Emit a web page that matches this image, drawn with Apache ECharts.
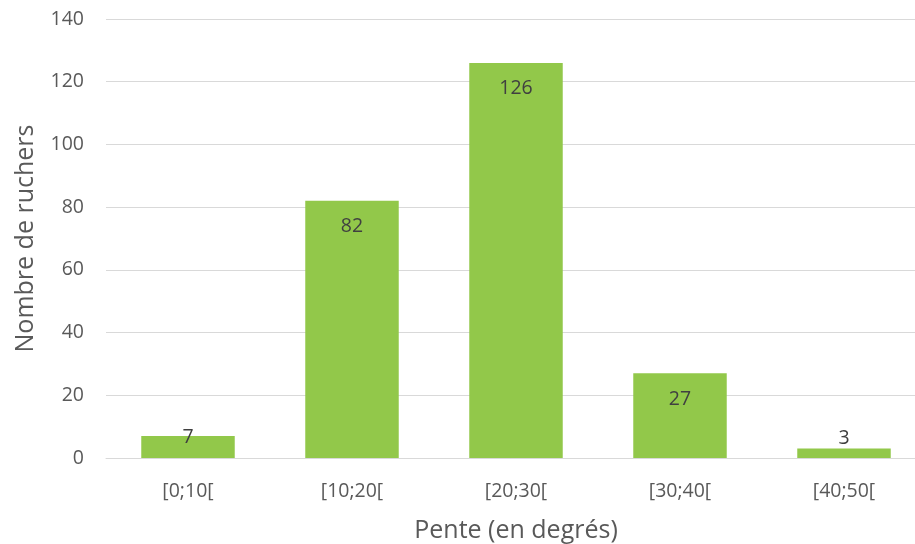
<!DOCTYPE html>
<html><head><meta charset="utf-8">
<script src="https://cdn.jsdelivr.net/npm/echarts@6/dist/echarts.min.js"></script>
<style>html,body{margin:0;padding:0;background:#fff}#c{width:915px;height:544px}</style>
</head><body><div id="c"></div>
<script>
const categories = ['[0;10[', '[10;20[', '[20;30[', '[30;40[', '[40;50['];
const values = [7, 82, 126, 27, 3];
const yTicks = { min: 0, max: 140, interval: 20 };
const xTitle = 'Pente (en degrés)';
const yTitle = 'Nombre de ruchers';

const FONT = '"Open Sans", sans-serif';
const TXT = '#595959';
const chart = echarts.init(document.getElementById('c'), null, { renderer: 'canvas' });

const data = values.map(function (v) {
  const item = { value: v };
  if (v < 10) {
    item.label = { position: 'top', distance: v > 5 ? -11 : 0 };
  }
  return item;
});

chart.setOption({
  animation: false,
  grid: { left: 106, top: 19, width: 820, height: 439, containLabel: false, outerBoundsMode: 'none' },
  xAxis: {
    type: 'category', data: categories,
    axisLine: { lineStyle: { color: '#d9d9d9', width: 1 } },
    axisTick: { show: false },
    axisLabel: { color: TXT, fontSize: 19.5, fontFamily: FONT, margin: 23 },
    name: xTitle, nameLocation: 'middle', nameGap: 60,
    nameTextStyle: { color: TXT, fontSize: 25, fontFamily: FONT }
  },
  yAxis: {
    type: 'value', min: yTicks.min, max: yTicks.max, interval: yTicks.interval,
    axisLine: { show: false }, axisTick: { show: false },
    splitLine: { lineStyle: { color: '#d9d9d9', width: 1 } },
    axisLabel: { color: TXT, fontSize: 19.5, fontFamily: FONT, margin: 22 },
    name: yTitle, nameLocation: 'middle', nameGap: 68, nameRotate: 90,
    nameTextStyle: { color: TXT, fontSize: 25, fontFamily: FONT }
  },
  series: [{
    type: 'bar', data: data, barWidth: '57%',
    itemStyle: { color: '#92c84a' },
    label: { show: true, position: 'insideTop', distance: 16, color: '#404040', fontSize: 19.5, fontFamily: FONT }
  }]
});
</script></body></html>
